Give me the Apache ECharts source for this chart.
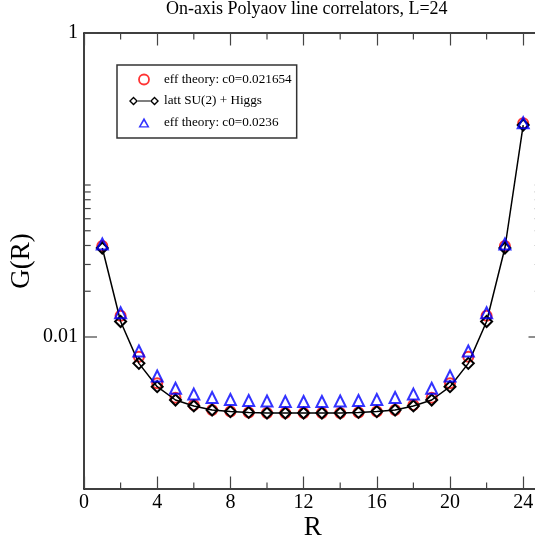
<!DOCTYPE html>
<html><head><meta charset="utf-8">
<script src="https://cdn.jsdelivr.net/npm/echarts@6/dist/echarts.min.js"></script>
<style>html,body{margin:0;padding:0;background:#fff}#c{width:535px;height:544px}</style>
</head><body><div id="c"></div>
<script>
const titleText = 'On-axis Polyaov line correlators, L=24';
const R = [1,2,3,4,5,6,7,8,9,10,11,12,13,14,15,16,17,18,19,20,21,22,23,24];
// eff theory c0=0.021654 (red circles)
const effA = [0.0397,0.01378,0.00742,0.00496,0.00399,0.00357,0.00331,0.00323,0.00319,0.00316,0.00316,0.00316,
              0.00316,0.00316,0.00319,0.00323,0.00331,0.00357,0.00399,0.00496,0.00742,0.01378,0.0397,0.255];
// latt SU(2) + Higgs (black diamonds, line)
const latt = [0.0385,0.01265,0.00671,0.00471,0.00385,0.00352,0.00331,0.00323,0.00319,0.00316,0.00316,0.00316,
              0.00316,0.00316,0.00319,0.00323,0.00331,0.00352,0.00385,0.00471,0.00671,0.01265,0.0385,0.248];
// eff theory c0=0.0236 (blue triangles)
const effB = [0.0409,0.01445,0.00809,0.00554,0.00460,0.00421,0.00400,0.00388,0.00382,0.00379,0.00376,0.00376,
              0.00376,0.00379,0.00382,0.00388,0.00400,0.00421,0.00460,0.00554,0.00809,0.01445,0.0409,0.257];
const seriesNames = ['eff theory: c0=0.021654', 'latt SU(2) + Higgs', 'eff theory: c0=0.0236'];
const yLabelValues = [1, 0.01];
const xMinorTicks = [2,6,10,14,18,22];
const yMajorTicks = [1, 0.01];
const yMinorTicks = [0.02,0.03,0.04,0.05,0.06,0.07,0.08,0.09,0.1];

const FONT = "'Liberation Serif','DejaVu Serif',serif";
const pairs = arr => R.map((r, i) => [r, arr[i]]);

const tickData = []
  .concat(xMinorTicks.map(v => [v, 1, 0]))
  .concat(yMajorTicks.map(v => [0, v, 1]))
  .concat(yMinorTicks.map(v => [0, v, 2]));

function renderTick(params, api) {
  const cs = params.coordSys;
  const kind = api.value(2);
  const st = {stroke: '#444', lineWidth: 1.2};
  if (kind === 0) {
    const px = api.coord([api.value(0), 1])[0];
    const b = cs.y + cs.height, t = cs.y, L = 6.5;
    return {type: 'group', children: [
      {type: 'line', shape: {x1: px, y1: b, x2: px, y2: b - L}, style: st},
      {type: 'line', shape: {x1: px, y1: t, x2: px, y2: t + L}, style: st}
    ]};
  }
  const py = api.coord([0, api.value(1)])[1];
  const L = kind === 1 ? 13 : 6.7;
  const l = cs.x, r = cs.x + cs.width;
  return {type: 'group', children: [
    {type: 'line', shape: {x1: l, y1: py, x2: l + L, y2: py}, style: st},
    {type: 'line', shape: {x1: r, y1: py, x2: r - L, y2: py}, style: st}
  ]};
}

const xBase = {
  type: 'value', min: 0, max: 25, interval: 4,
  axisLine: {show: true, onZero: false, lineStyle: {color: '#000', width: 1.5}},
  axisTick: {show: true, inside: true, length: 12.5, lineStyle: {color: '#444', width: 1.2}},
  splitLine: {show: false}
};
const yBase = {
  type: 'log', logBase: 10, min: 0.001, max: 1, interval: 1,
  axisLine: {show: true, onZero: false, lineStyle: {color: '#000', width: 1.5}},
  axisTick: {show: false}, splitLine: {show: false}, minorTick: {show: false}
};

const chart = echarts.init(document.getElementById('c'), null, {renderer: 'canvas'});
chart.setOption({
  animation: false,
  backgroundColor: '#fff',
  title: {text: titleText, left: 166, top: 0, padding: 0,
          textStyle: {fontFamily: FONT, fontSize: 18, fontWeight: 'normal', color: '#000'}},
  grid: {left: 84, top: 33, right: -6.5, bottom: 55, containLabel: false, outerBoundsMode: 'none'},
  legend: {
    orient: 'vertical', left: 117, top: 65, padding: [8, 5, 9, 12], itemGap: 8.5,
    itemWidth: 30, itemHeight: 10, borderColor: '#333', borderWidth: 1.5,
    textStyle: {fontFamily: FONT, fontSize: 13.2, color: '#000'},
    data: [
      {name: seriesNames[0], icon: 'circle', itemStyle: {color: 'transparent', borderColor: '#ff0000', borderWidth: 1.8}},
      {name: seriesNames[1],
       icon: 'path://M0,5 L4.5,0.5 L9,5 L4.5,9.5 Z M1.9,5 L4.5,7.6 L7.1,5 L4.5,2.4 Z M9,4.4 L21,4.4 L21,5.6 L9,5.6 Z M21,5 L25.5,0.5 L30,5 L25.5,9.5 Z M22.9,5 L25.5,7.6 L28.1,5 L25.5,2.4 Z',
       itemStyle: {color: '#000', borderWidth: 0}},
      {name: seriesNames[2],
       icon: 'path://M5,0 L10,9 L0,9 Z M5,3.2 L2.2,7.8 L7.8,7.8 Z',
       itemStyle: {color: '#0000ff', borderWidth: 0}}
    ]
  },
  xAxis: [
    Object.assign({}, xBase, {position: 'bottom',
      axisLabel: {show: true, margin: 4, fontFamily: FONT, fontSize: 20, color: '#000',
        formatter: v => (v % 4 === 0 ? String(v) : '')},
      name: 'R', nameLocation: 'middle', nameGap: 25, nameMoveOverlap: false,
      nameTextStyle: {fontFamily: FONT, fontSize: 27, color: '#000'}}),
    Object.assign({}, xBase, {position: 'top', axisLabel: {show: false}})
  ],
  yAxis: [
    Object.assign({}, yBase, {position: 'left',
      axisLabel: {show: true, margin: 6, fontFamily: FONT, fontSize: 20, color: '#000',
        formatter: v => {
          for (const t of yLabelValues) if (Math.abs(Math.log10(v) - Math.log10(t)) < 1e-6) return String(t);
          return '';
        }},
      name: 'G(R)', nameLocation: 'middle', nameGap: 49, nameRotate: 90, nameMoveOverlap: false,
      nameTextStyle: {fontFamily: FONT, fontSize: 27, color: '#000'}}),
    Object.assign({}, yBase, {position: 'right', axisLabel: {show: false}})
  ],
  series: [
    {name: seriesNames[0], type: 'scatter', data: pairs(effA), symbol: 'circle', symbolSize: 10,
     itemStyle: {color: 'transparent', borderColor: '#ff0000', borderWidth: 2}, z: 3},
    {name: seriesNames[1], type: 'line', data: pairs(latt), symbol: 'diamond', symbolSize: 11,
     showAllSymbol: true, lineStyle: {color: '#000', width: 1.5},
     itemStyle: {color: 'transparent', borderColor: '#000', borderWidth: 2}, z: 4},
    {name: seriesNames[2], type: 'scatter', data: pairs(effB), symbol: 'triangle', symbolSize: 11,
     itemStyle: {color: 'transparent', borderColor: '#0000ff', borderWidth: 2}, z: 5},
    {name: 'ticks', type: 'custom', data: tickData, renderItem: renderTick, silent: true, z: 6,
     xAxisIndex: 0, yAxisIndex: 0, clip: false}
  ]
});
</script></body></html>
